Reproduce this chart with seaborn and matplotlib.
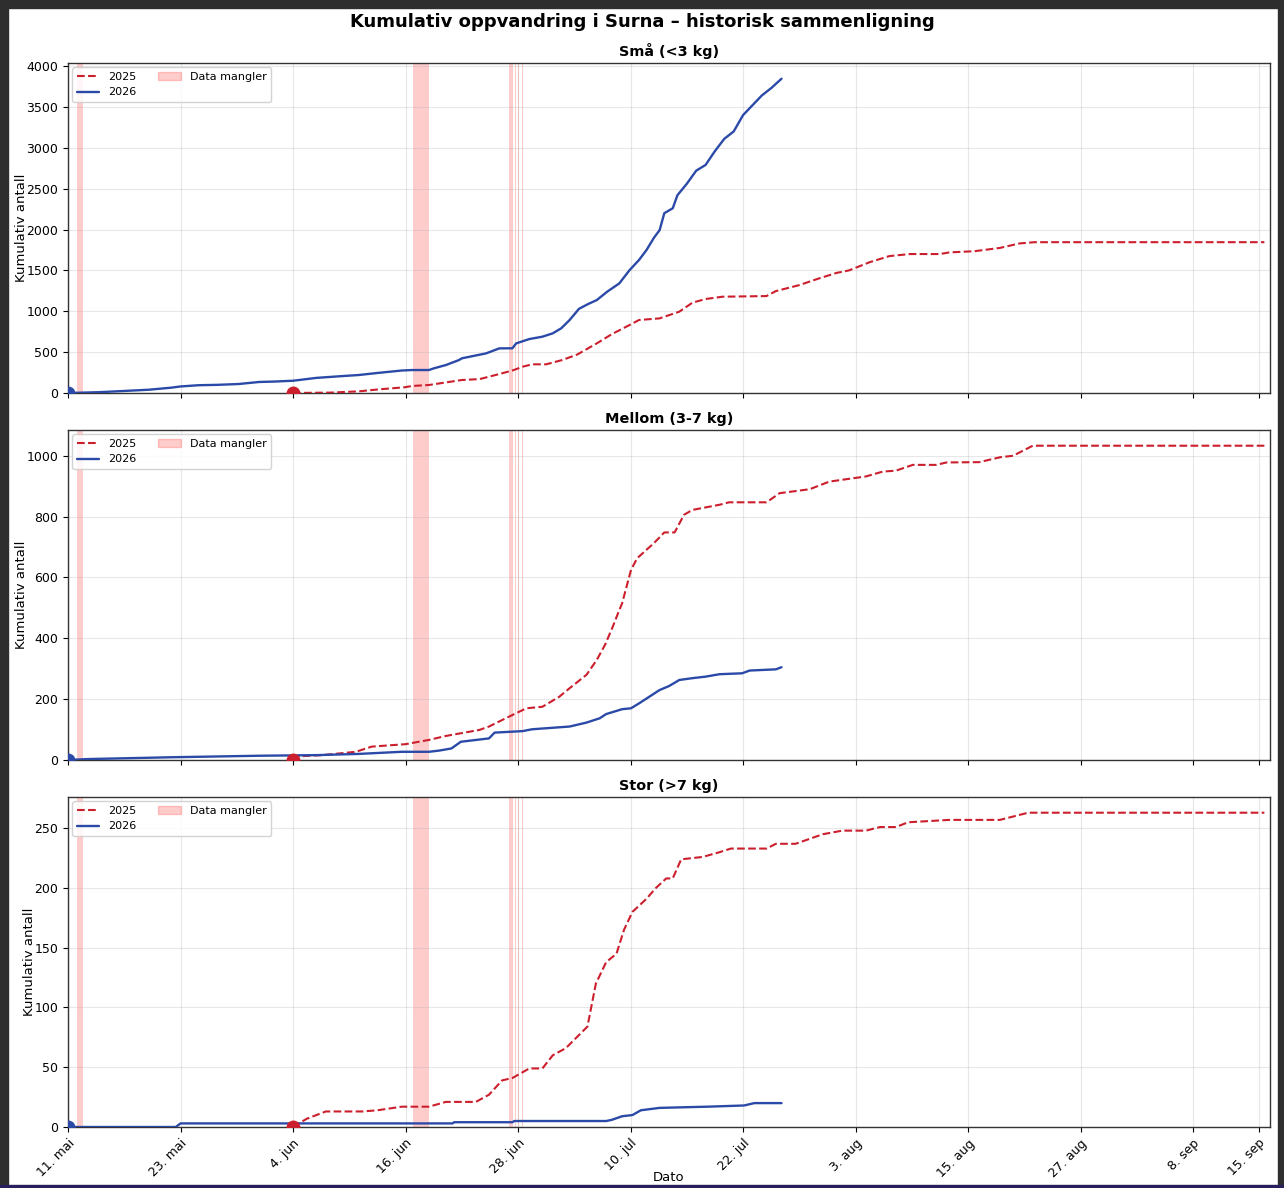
import numpy as np
import pandas as pd
import matplotlib
matplotlib.use("Agg")
import matplotlib.pyplot as plt
import seaborn as sns
from matplotlib.patches import Rectangle, Patch
from matplotlib.lines import Line2D

# ---------------- data ----------------
START = pd.Timestamp("2026-05-11")   # day 0 on the shared season axis
XMAX_DAY = 128.2

sma_2026_dag = [0, 3.3, 6, 8.6, 11, 12, 13.9, 16, 18.2, 20.4, 22, 24, 26.5, 29, 31, 33, 35.6, 36.7,
                38.5, 39, 40.3, 41.7, 42, 44.6, 46, 47.4, 47.8, 49.2, 50.6, 51.7, 52.6, 53.5, 54.5,
                55.5, 56.4, 57.5, 58.8, 59.9, 60.9, 61.7, 62.5, 63.1, 63.6, 64.5, 65, 66, 67, 68,
                69, 70, 71, 72, 73, 74, 75, 76.1]
sma_2026 = [0, 10, 25, 40, 65, 80, 95, 100, 110, 135, 140, 150, 185, 205, 220, 245, 275, 281,
            281, 301, 342, 403, 424, 485, 546, 547, 607, 660, 689, 730, 791, 893, 1030,
            1090, 1137, 1239, 1341, 1504, 1627, 1749, 1900, 1993, 2200, 2260, 2420, 2560, 2720, 2790,
            2960, 3110, 3200, 3400, 3520, 3640, 3730, 3845]

sma_2025_dag = [24, 28, 31, 33.2, 35.9, 36.7, 38.5, 42, 43.9, 45.6, 47.4, 48.5, 49.5, 51, 52.7, 54.3,
                56.4, 58, 59.9, 60.9, 63.1, 65.2, 66.6, 68, 69.8, 74.5, 75.5, 78, 80.1, 82, 83.3,
                85.5, 87.6, 89.8, 93, 94, 96.7, 99.4, 101.5, 103.1, 127.6]
sma_2025 = [0, 5, 20, 45, 70, 86, 98, 159, 170, 220, 275, 322, 351, 351, 403, 470,
            607, 720, 832, 893, 913, 995, 1105, 1150, 1178, 1186, 1247, 1320, 1402, 1470, 1500,
            1600, 1675, 1700, 1700, 1720, 1735, 1775, 1830, 1845, 1845]

mellom_2026_dag = [0, 2, 11, 20.4, 26.5, 31, 35.6, 38.5, 39.6, 40.9, 41.9, 44.9, 45.5, 48.5, 49.5,
                   53.5, 55.3, 56.7, 57.4, 59.1, 60.05, 60.9, 62, 63.1, 64.1, 65.2, 66.6, 68, 69.5,
                   71.9, 72.7, 75.5, 76.1]
mellom_2026 = [0, 3, 9, 14, 16, 20, 27, 27, 31, 38, 60, 71, 90, 95, 101,
               110, 123, 137, 151, 167, 170, 186, 208, 230, 243, 263, 269, 274, 282,
               285, 294, 298, 305]

mellom_2025_dag = [24, 24.5, 27.1, 30.7, 32.4, 36, 38.5, 40.3, 43.9, 44.9, 47.4, 48.9, 50.6, 52.4,
                   53.5, 55.3, 56.4, 57.3, 58.1, 58.8, 59.1, 60.05, 60.7, 61.7, 62.5, 63.6, 64.7,
                   65.7, 66.6, 69.5, 70.5, 74.5, 75.9, 79.1, 81.2, 85.1, 86.9, 88.3, 90.1, 92.6,
                   93.7, 97.2, 99.4, 100.8, 102.9, 127.6]
mellom_2025 = [0, 12, 16, 27, 44, 52, 66, 79, 99, 110, 148, 170, 175, 208,
               236, 280, 329, 380, 438, 493, 515, 625, 663, 691, 713, 748, 748,
               806, 822, 839, 847, 847, 877, 890, 915, 932, 948, 951, 970, 970,
               978, 979, 995, 1000, 1033, 1033]

stor_2026_dag = [0, 11.5, 12, 41, 41.2, 47.4, 47.6, 57.4, 58, 59.1, 60.2, 61.1, 63.1, 68.2, 72.1,
                 73.2, 76.1]
stor_2026 = [0, 0, 3, 3, 4, 4, 5, 5, 6, 9, 10, 14, 16, 17, 18, 20, 20]

stor_2025_dag = [24, 24.6, 25.5, 27.5, 31.4, 33, 35.6, 38.5, 40.3, 43.5, 44.9, 46.3, 47.4, 49.2,
                 50.6, 51.7, 53.1, 55.4, 56.3, 57.4, 58.5, 59.3, 60.2, 61.7, 62.7, 63.8, 64.5,
                 65.4, 67.7, 69.5, 70.7, 74.5, 75.5, 77.6, 80.5, 82.6, 85.1, 86.6, 88.3, 89.6,
                 94, 99.4, 100.4, 102.4, 127.6]
stor_2025 = [0, 3, 7, 13, 13, 14, 17, 17, 21, 21, 27, 39, 41, 49,
             49, 60, 66, 84, 120, 138, 145, 165, 180, 191, 200, 208, 208,
             224, 226, 230, 233, 233, 237, 237, 245, 248, 248, 251, 251, 255,
             257, 257, 259, 263, 263]

# periods with missing data (start day, end day)
mangler_start = [1.0, 36.75, 47.0, 47.68, 48.02, 48.45]
mangler_slutt = [1.6, 38.5, 47.45, 47.74, 48.08, 48.52]

tick_datoer = ["2026-05-11", "2026-05-23", "2026-06-04", "2026-06-16", "2026-06-28", "2026-07-10",
               "2026-07-22", "2026-08-03", "2026-08-15", "2026-08-27", "2026-09-08", "2026-09-15"]
tick_etiketter = ["11. mai", "23. mai", "4. jun", "16. jun", "28. jun", "10. jul",
                  "22. jul", "3. aug", "15. aug", "27. aug", "8. sep", "15. sep"]

titler = ["Små (<3 kg)", "Mellom (3-7 kg)", "Stor (>7 kg)"]
serier = [
    (sma_2025_dag, sma_2025, sma_2026_dag, sma_2026),
    (mellom_2025_dag, mellom_2025, mellom_2026_dag, mellom_2026),
    (stor_2025_dag, stor_2025, stor_2026_dag, stor_2026),
]

RED = "#cc1f2d"
BLUE = "#2b4aa8"


def til_dato(dager):
    return START + pd.to_timedelta(np.asarray(dager, dtype=float), unit="D")


# ---------------- plot ----------------
sns.set_style("ticks")
plt.rcParams["font.family"] = ["DejaVu Sans"]
plt.rcParams["text.color"] = "black"
plt.rcParams["axes.labelcolor"] = "black"
plt.rcParams["xtick.color"] = "black"
plt.rcParams["ytick.color"] = "black"

W, H = 1284, 1188
fig, axes = plt.subplots(3, 1, figsize=(W / 100, H / 100), dpi=100, sharex=True)
fig.subplots_adjust(left=68 / W, right=1270 / W, top=1 - 63 / H, bottom=1 - 1127 / H,
                    hspace=37 / 330)

for ax, tittel, (d25, v25, d26, v26) in zip(axes, titler, serier):
    for i, (s, e) in enumerate(zip(mangler_start, mangler_slutt)):
        ax.axvspan(til_dato([s])[0], til_dato([e])[0], color="red", alpha=0.2, lw=0, zorder=0.5)

    df25 = pd.DataFrame({"dato": til_dato(d25), "antall": v25})
    df26 = pd.DataFrame({"dato": til_dato(d26), "antall": v26})
    sns.lineplot(data=df25, x="dato", y="antall", ax=ax, color=RED, linestyle="--",
                 linewidth=1.5, estimator=None, sort=False, zorder=3)
    sns.lineplot(data=df26, x="dato", y="antall", ax=ax, color=BLUE, linestyle="-",
                 linewidth=1.7, estimator=None, sort=False, zorder=3)
    ax.plot(df25["dato"].iloc[:1], df25["antall"].iloc[:1], "o", color=RED, markersize=9, zorder=4)
    ax.plot(df26["dato"].iloc[:1], df26["antall"].iloc[:1], "o", color=BLUE, markersize=9, zorder=4)

    ax.set_ylim(bottom=0)
    ax.set_xlim(til_dato([0])[0], til_dato([XMAX_DAY])[0])
    ax.grid(True, color="#b0b0b0", alpha=0.3, linewidth=0.8)
    ax.set_axisbelow(True)
    ax.set_title(tittel, fontsize=10.4, fontweight="bold", pad=5)
    ax.set_ylabel("Kumulativ antall", fontsize=9.5, labelpad=-1)
    ax.set_xlabel("")
    ax.tick_params(labelsize=9)
    for sp in ax.spines.values():
        sp.set_color("#333333")
        sp.set_linewidth(1.0)

    handles = [Line2D([], [], color=RED, linestyle="--", linewidth=1.5),
               Line2D([], [], color=BLUE, linestyle="-", linewidth=1.7),
               Patch(facecolor="red", alpha=0.2, edgecolor="red")]
    ax.legend(handles, ["2025", "2026", "Data mangler"], loc="upper left", ncol=2, fontsize=8,
              framealpha=0.85, borderaxespad=0.4)

ax = axes[-1]
ax.set_xticks(list(pd.to_datetime(tick_datoer)))
ax.set_xticklabels(tick_etiketter, rotation=45, ha="right", va="top", rotation_mode="anchor")
ax.set_xlabel("Dato", fontsize=9.5, labelpad=-6)

fig.suptitle("Kumulativ oppvandring i Surna – historisk sammenligning", fontsize=13,
             fontweight="bold", y=1 - 13 / H, va="top")

# screenshot frame
frame = "#2e2e2e"
fig.add_artist(Rectangle((0, 0), 8 / W, 1, transform=fig.transFigure, color=frame, zorder=10))
fig.add_artist(Rectangle((0, 1 - 8 / H), 1, 8 / H, transform=fig.transFigure, color=frame, zorder=10))
fig.add_artist(Rectangle((1 - 6 / W, 0), 6 / W, 1, transform=fig.transFigure, color=frame, zorder=10))
fig.add_artist(Rectangle((0, 0), 1, 3 / H, transform=fig.transFigure, color="#2a1f5a", zorder=10))

fig.savefig("out.png", dpi=100)
